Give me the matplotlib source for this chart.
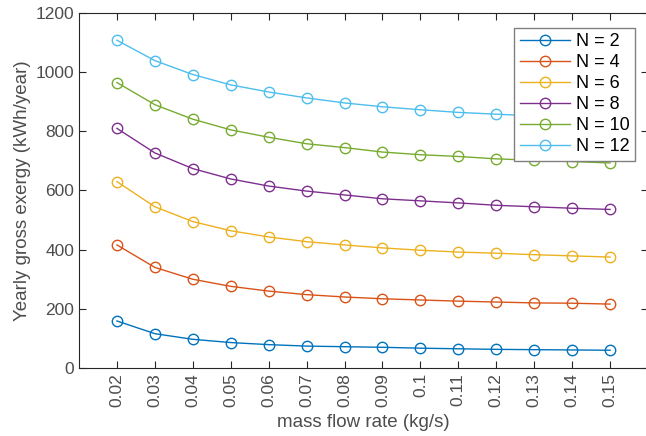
import matplotlib
matplotlib.use("Agg")
import matplotlib.pyplot as plt

plt.rcParams["font.family"] = ["Liberation Sans", "DejaVu Sans"]

# mass flow rate (kg/s)
flow = [0.02, 0.03, 0.04, 0.05, 0.06, 0.07, 0.08, 0.09, 0.10, 0.11, 0.12, 0.13, 0.14, 0.15]
flow_labels = ["0.02", "0.03", "0.04", "0.05", "0.06", "0.07", "0.08",
               "0.09", "0.1", "0.11", "0.12", "0.13", "0.14", "0.15"]

# yearly gross exergy (kWh/year) for each number of collectors
n2 = [159, 116, 97, 86, 79, 74, 72, 70, 67, 65, 63, 62, 61, 60]
n4 = [416, 340, 300, 276, 260, 248, 240, 234, 230, 226, 223, 220, 219, 216]
n6 = [630, 545, 495, 464, 443, 427, 416, 406, 398, 392, 388, 383, 379, 375]
n8 = [810, 727, 674, 639, 615, 598, 585, 572, 565, 558, 550, 545, 540, 536]
n10 = [965, 890, 841, 805, 780, 758, 745, 730, 721, 715, 707, 702, 698, 693]
n12 = [1108, 1039, 992, 957, 933, 913, 896, 883, 873, 864, 858, 852, 847, 843]

series = [n2, n4, n6, n8, n10, n12]
labels = ["N = 2", "N = 4", "N = 6", "N = 8", "N = 10", "N = 12"]
colors = ["#0072BD", "#D95319", "#EDB120", "#7E2F8E", "#77AC30", "#4DBEEE"]

fig = plt.figure(figsize=(6.46, 4.36), dpi=100)
ax = fig.add_axes([79 / 646, 68 / 436, 569 / 646, 355 / 436])

for vals, lab, c in zip(series, labels, colors):
    ax.plot(flow, vals, color=c, marker="o", markersize=7.5, markerfacecolor="none",
            markeredgewidth=1.0, linewidth=1.0, label=lab)

ax.set_xlim(0.01, 0.16)
ax.set_ylim(0, 1200)
ax.set_xticks(flow)
ax.set_xticklabels(flow_labels, rotation=90)
ax.set_yticks([0, 200, 400, 600, 800, 1000, 1200])

ax.tick_params(direction="in", top=True, right=True, length=5, width=0.8,
               colors="#262626", labelcolor="#4d4d4d", labelsize=12.5)
for s in ax.spines.values():
    s.set_color("#262626")
    s.set_linewidth(0.8)

ax.set_xlabel("mass flow rate (kg/s)", fontsize=13.5, color="#4d4d4d", labelpad=5)
ax.set_ylabel("Yearly gross exergy (kWh/year)", fontsize=13.5, color="#4d4d4d", labelpad=3)

leg = ax.legend(loc="upper right", bbox_to_anchor=(635 / 646, 1 - 28 / 436),
                bbox_transform=fig.transFigure, fontsize=13, frameon=True, fancybox=False,
                edgecolor="#808080", framealpha=1, borderpad=0.3, labelspacing=0.22,
                handlelength=2.8, handletextpad=0.3, borderaxespad=0)
leg.get_frame().set_linewidth(1.0)

fig.savefig("out.png", dpi=100)
